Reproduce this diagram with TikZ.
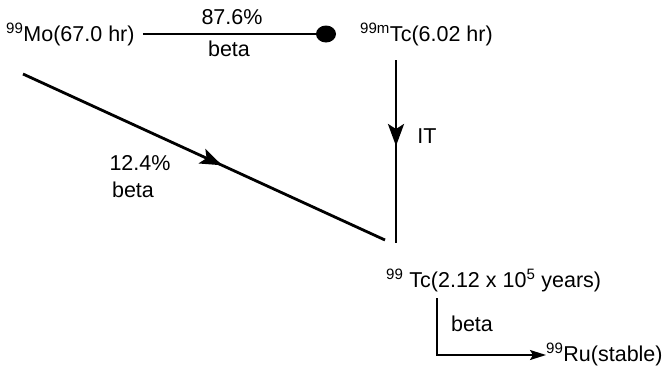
\documentclass[tikz,border=0pt]{standalone}
\usepackage{fontspec}
\setmainfont{Liberation Sans}
\usetikzlibrary{arrows.meta,decorations.markings}
\begin{document}
\begin{tikzpicture}[x=1pt,y=-1pt,
  lbl/.style={inner sep=0pt,font=\fontsize{21.5}{25}\selectfont},
  heavy/.style={line width=2.8pt},
  thin/.style={line width=1.7pt},
  midarrow/.style={postaction={decorate},decoration={markings,
     mark=at position #1 with {\arrow{Stealth[length=22pt,width=16pt,inset=5pt]}}}}]
\path[use as bounding box] (0,0) rectangle (664,381);
% nodes
\node[lbl,anchor=base west] (mo) at (6,41) {\textsuperscript{99}Mo(67.0 hr)};
\node[lbl,anchor=base west] (tcm) at (360,41) {\textsuperscript{99m}Tc(6.02 hr)};
\node[lbl,anchor=base west] (tc) at (386,287) {\textsuperscript{99} Tc(2.12 x 10\textsuperscript{5} years)};
\node[lbl,anchor=base west] (ru) at (546,361) {\textsuperscript{99}Ru(stable)};
% top beta branch
\coordinate (dot) at (326,34);
\draw[heavy] (mo.east |- dot) ++(8,0) coordinate (mostart) -- (dot);
\fill (dot) ellipse [x radius=10, y radius=8.5];
\node[lbl] (p1) at (232,17) {87.6\%};
\node[lbl] (b1) at (229,49) {beta};
% IT branch
\coordinate (itTop) at (396,60);
\coordinate (itBot) at (396,243);
\draw[heavy,midarrow=0.47] (itTop) -- (itBot);
\node[lbl] (it) at (427,136) {IT};
% diagonal branch
\coordinate (dStart) at (23,74);
\coordinate (dEnd) at (385,240);
\draw[heavy,midarrow=0.55] (dStart) -- (dEnd);
\node[lbl] (p2) at (140,163) {12.4\%};
\node[lbl] (b2) at (133,190) {beta};
% Ru branch
\coordinate (rTop) at (437,298);
\coordinate (rCorner) at (437,355);
\draw[thin,-{Stealth[length=16pt,width=10pt,inset=3pt]}] (rTop) -- (rCorner) -- (ru.west |- rCorner);
\node[lbl] (b3) at (472,324) {beta};
\end{tikzpicture}
\end{document}
